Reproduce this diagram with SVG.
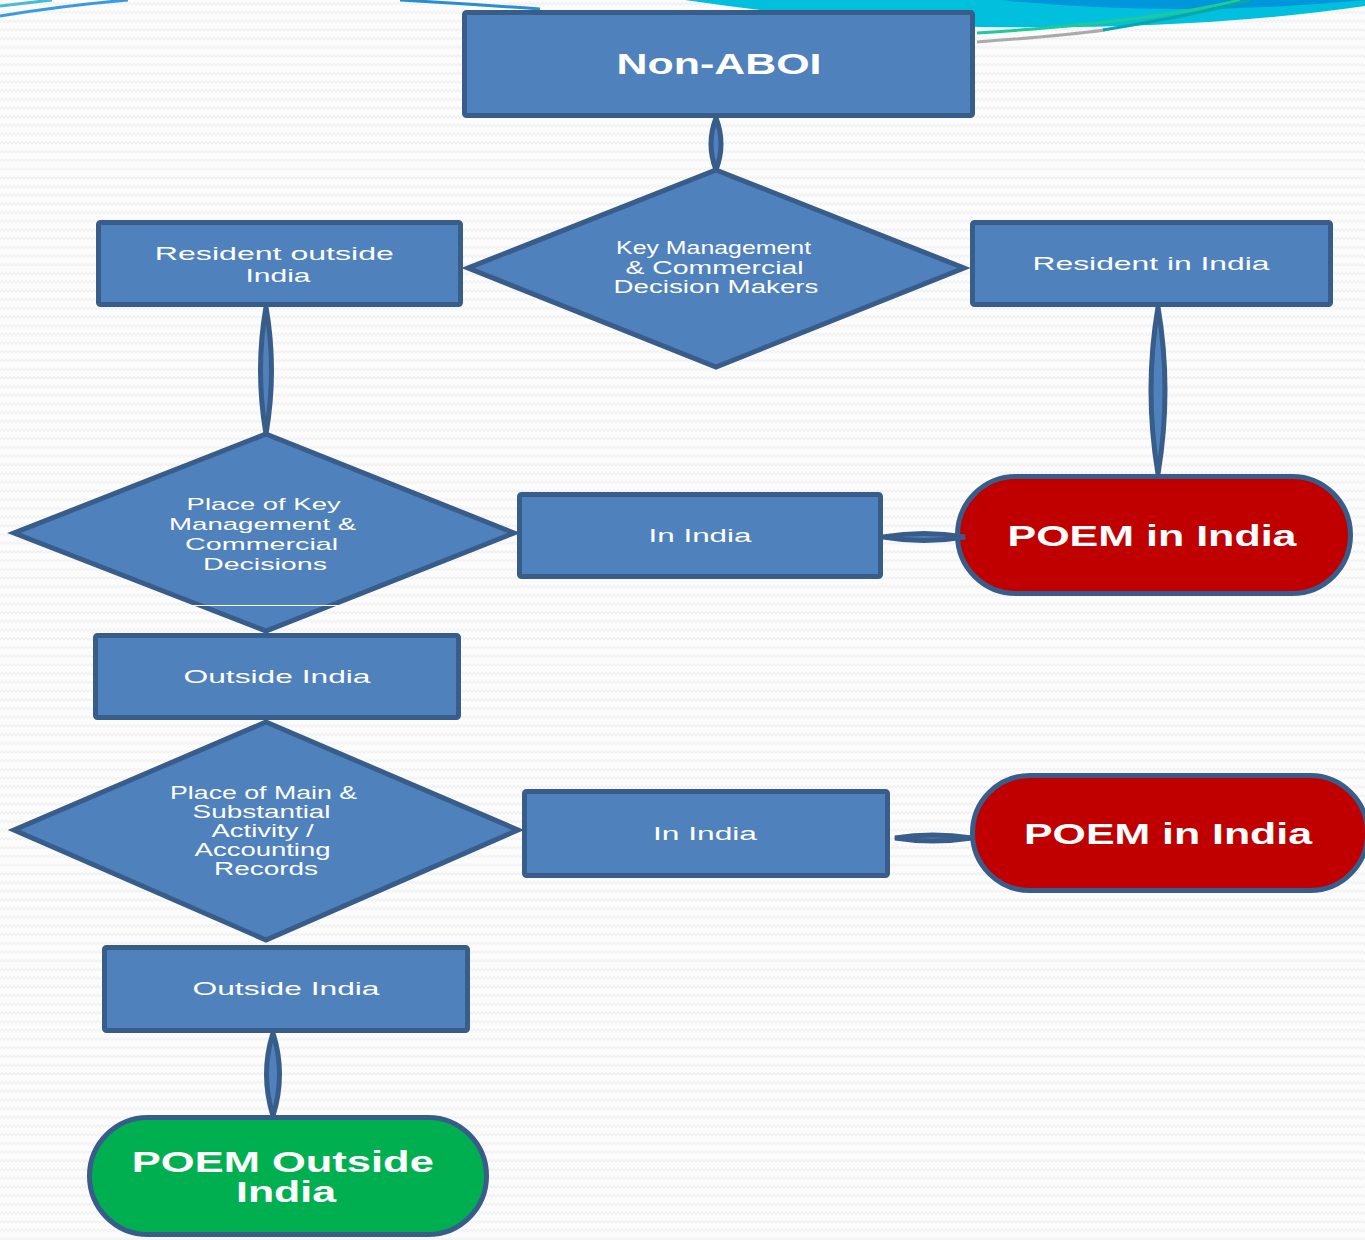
<svg xmlns="http://www.w3.org/2000/svg" width="1365" height="1240" viewBox="0 0 1365 1240">
  <style>
    .box { fill: #4F81BD; stroke: #385D8A; stroke-width: 5; }
    .dia { fill: #4F81BD; stroke: #385D8A; stroke-width: 5; stroke-linejoin: miter; }
    .conn { fill: #4F81BD; stroke: #385D8A; stroke-width: 5; }
    .red { fill: #C00000; stroke: #385D8A; stroke-width: 5; }
    .green { fill: #00B050; stroke: #385D8A; stroke-width: 5; }
    .t { font-family: "Liberation Sans", Arial, sans-serif; fill: #FFFFFF; text-anchor: middle; }
    .b { font-weight: bold; }
  </style>
  <defs>
    <pattern id="bg" width="8" height="8.7" patternUnits="userSpaceOnUse">
      <rect width="8" height="8.7" fill="#FCFCFC"/>
      <path d="M0,5 L2,2.5 L4,5 L6,2.5 L8,5" fill="none" stroke="#EFEFEF" stroke-width="1"/>
    </pattern>
  </defs>
  <rect width="1365" height="1240" fill="url(#bg)"/>

  <g id="decoration">
    <path d="M685,0 Q850,24 980,27 Q1200,30 1365,6 L1365,0 Z" fill="#00C0DD"/>
    <path d="M1000,0 Q1180,18 1365,0 Z" fill="#0096DC"/>
    <path d="M977,33 Q1150,22 1240,0" fill="none" stroke="#1EC99A" stroke-width="3"/>
    <path d="M977,42 Q1060,36 1105,30" fill="none" stroke="#AAAAAA" stroke-width="3"/>
    <path d="M1103,30 Q1200,14 1250,0" fill="none" stroke="#0AA5A8" stroke-width="3"/>
    <path d="M0,16 Q60,6 128,0" fill="none" stroke="#3C9BE0" stroke-width="3"/>
    <path d="M0,6 L52,0" fill="none" stroke="#4BBCD0" stroke-width="3"/>
    <path d="M400,0 Q470,4 540,9" fill="none" stroke="#2A8FD0" stroke-width="3"/>
  </g>

  <g id="connectors">
    <path class="conn" d="M716,118 Q726,144 716,170 Q706,144 716,118 Z"/>
    <path class="conn" d="M266,307 Q277,370 266,434 Q255,370 266,307 Z"/>
    <path class="conn" d="M1158,307 Q1172,390 1158,474 Q1144,390 1158,307 Z"/>
    <path class="conn" d="M273,1033 Q286,1074 273,1116 Q260,1074 273,1033 Z"/>
  </g>

  <g id="n-nonaboi">
    <rect class="box" x="464.5" y="12.5" width="508" height="103" rx="2"/>
    <text class="t b" x="719" y="74" font-size="29" textLength="205" lengthAdjust="spacingAndGlyphs">Non-ABOI</text>
  </g>

  <g id="n-keymgmt">
    <polygon class="dia" points="716,170 964,268 716,367 468,268"/>
    <text class="t" font-size="17.5">
      <tspan x="716" y="254" textLength="195" lengthAdjust="spacingAndGlyphs">Key Management</tspan>
      <tspan x="717" y="274" textLength="178" lengthAdjust="spacingAndGlyphs">&amp; Commercial</tspan>
      <tspan x="716" y="293" textLength="205" lengthAdjust="spacingAndGlyphs">Decision Makers</tspan>
    </text>
  </g>

  <g id="n-resout">
    <rect class="box" x="98.5" y="222.5" width="362" height="82" rx="2"/>
    <text class="t" font-size="19">
      <tspan x="277" y="260" textLength="239" lengthAdjust="spacingAndGlyphs">Resident outside</tspan>
      <tspan x="278" y="282" textLength="65" lengthAdjust="spacingAndGlyphs">India</tspan>
    </text>
  </g>

  <g id="n-resin">
    <rect class="box" x="972.5" y="222.5" width="358" height="82" rx="2"/>
    <text class="t" x="1151" y="270" font-size="19" textLength="237" lengthAdjust="spacingAndGlyphs">Resident in India</text>
  </g>

  <g id="n-placekey">
    <polygon class="dia" points="266,434 514,533 266,631 14,533"/>
    <line x1="185" y1="605.5" x2="345" y2="605.5" stroke="#FFFFFF" stroke-width="1"/>
    <text class="t" font-size="17">
      <tspan x="266" y="510" textLength="154" lengthAdjust="spacingAndGlyphs">Place of Key</tspan>
      <tspan x="265" y="530" textLength="187" lengthAdjust="spacingAndGlyphs">Management &amp;</tspan>
      <tspan x="264" y="550" textLength="153" lengthAdjust="spacingAndGlyphs">Commercial</tspan>
      <tspan x="265" y="570" textLength="124" lengthAdjust="spacingAndGlyphs">Decisions</tspan>
    </text>
  </g>

  <g id="n-inindia1">
    <rect class="box" x="519.5" y="494.5" width="361" height="82" rx="2"/>
    <text class="t" x="700" y="542" font-size="19" textLength="103" lengthAdjust="spacingAndGlyphs">In  India</text>
  </g>

  <g id="n-poem1">
    <rect class="red" x="957.5" y="476.5" width="393" height="117" rx="58.5"/>
    <text class="t b" x="1152" y="546" font-size="30" textLength="289" lengthAdjust="spacingAndGlyphs">POEM in India</text>
  </g>
  <path class="conn" d="M883,537 Q924,530 965,537 Q924,544 883,537 Z"/>

  <g id="n-outside1">
    <rect class="box" x="95.5" y="635.5" width="363" height="82" rx="2"/>
    <text class="t" x="277" y="683" font-size="19" textLength="187" lengthAdjust="spacingAndGlyphs">Outside India</text>
  </g>

  <g id="n-placemain">
    <polygon class="dia" points="266,722 518,830 266,940 14,830"/>
    <text class="t" font-size="17.5">
      <tspan x="266" y="799" textLength="187" lengthAdjust="spacingAndGlyphs">Place of Main &amp;</tspan>
      <tspan x="264" y="818" textLength="138" lengthAdjust="spacingAndGlyphs">Substantial</tspan>
      <tspan x="265" y="837" textLength="102" lengthAdjust="spacingAndGlyphs">Activity  /</tspan>
      <tspan x="265" y="856" textLength="136" lengthAdjust="spacingAndGlyphs">Accounting</tspan>
      <tspan x="266" y="875" textLength="104" lengthAdjust="spacingAndGlyphs">Records</tspan>
    </text>
  </g>

  <g id="n-inindia2">
    <rect class="box" x="524.5" y="791.5" width="363" height="84" rx="2"/>
    <text class="t" x="705" y="840" font-size="19" textLength="104" lengthAdjust="spacingAndGlyphs">In  India</text>
  </g>

  <g id="n-poem2">
    <rect class="red" x="972.5" y="775.5" width="395" height="115" rx="57.5"/>
    <text class="t b" x="1168" y="844" font-size="30" textLength="288" lengthAdjust="spacingAndGlyphs">POEM in India</text>
  </g>
  <path class="conn" d="M895,838 Q932,832 972,838 Q932,844 895,838 Z"/>

  <g id="n-outside2">
    <rect class="box" x="104.5" y="947.5" width="363" height="83" rx="2"/>
    <text class="t" x="286" y="995" font-size="19" textLength="187" lengthAdjust="spacingAndGlyphs">Outside India</text>
  </g>

  <g id="n-poemout">
    <rect class="green" x="89.5" y="1117.5" width="397" height="117" rx="58.5"/>
    <text class="t b" font-size="30">
      <tspan x="287" y="1172" textLength="302" lengthAdjust="spacingAndGlyphs">POEM Outside</tspan>
      <tspan x="286" y="1202" textLength="100" lengthAdjust="spacingAndGlyphs">India</tspan>
    </text>
  </g>
</svg>
